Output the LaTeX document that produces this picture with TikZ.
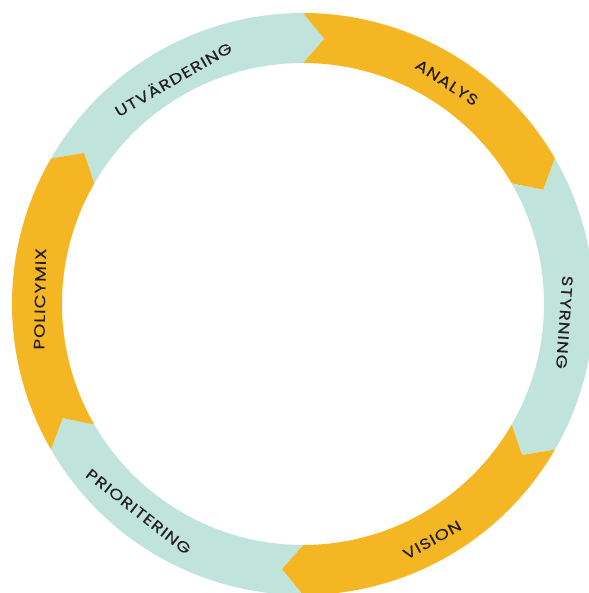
\documentclass[tikz,border=0pt]{standalone}
\usepackage{fontspec}
\setmainfont{Poppins}[LetterSpace=5,FakeBold=0.1]
\definecolor{ringorange}{HTML}{F4B623}
\definecolor{ringteal}{HTML}{C0E4DB}
\definecolor{labelink}{HTML}{231F20}
\newcommand\ringseg[2]{%
  \fill[#2] ([shift={(c)}]#1:\Ro) arc[start angle=#1, end angle=#1-60, radius=\Ro]
    -- ([shift={(c)}]#1-60-\tipd:\Rm) -- ([shift={(c)}]#1-60:\Ri)
    arc[start angle=#1-60, end angle=#1, radius=\Ri]
    -- ([shift={(c)}]#1-\tipd:\Rm) -- cycle;}
\begin{document}
\begin{tikzpicture}[x=1pt,y=1pt,
  seglabel/.style={text=labelink, font=\fontsize{15}{15}\selectfont,
    inner sep=0pt, text height=10.4pt, text depth=0pt, anchor=center, rotate=#1, xscale=1.22}]
\useasboundingbox (0,0) rectangle (588,593);
\coordinate (c) at (303,289);
\def\Ro{291pt}\def\Ri{241pt}\def\Rm{266pt}\def\tipd{4.6}
\ringseg{150}{ringteal}
\ringseg{90}{ringorange}
\ringseg{30}{ringteal}
\ringseg{-30}{ringorange}
\ringseg{-90}{ringteal}
\ringseg{-150}{ringorange}
\node[seglabel=30] (utv) at ([shift={(c)}]120:259pt) {UTVÄRDERING};
\node[seglabel=-33] (ana) at ([shift={(c)}]57:264pt) {ANALYS};
\node[seglabel=-94] (sty) at ([shift={(c)}]-4:262pt) {STYRNING};
\node[seglabel=29] (vis) at ([shift={(c)}]-61.3:269pt) {VISION};
\node[seglabel=-38] (pri) at ([shift={(c)}]-128.4:265pt) {PRIORITERING};
\node[seglabel=89] (pol) at ([shift={(c)}]178.9:263pt) {POLICYMIX};
\end{tikzpicture}
\end{document}
